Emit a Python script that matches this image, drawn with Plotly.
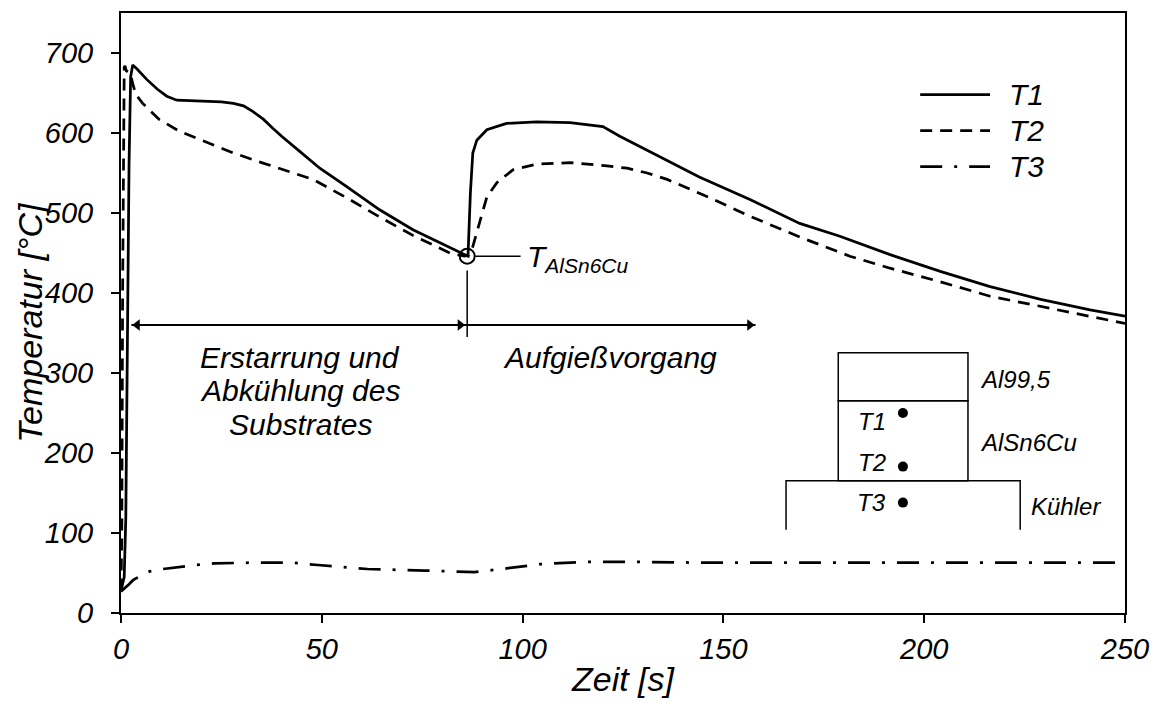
import plotly.graph_objects as go

FONT = "Liberation Sans, Arial, sans-serif"

# ---- data ----
t1_time = [0, 0.8, 1.2, 1.6, 2.0, 2.4, 2.9, 4.0, 6.4, 9.0, 11.4, 13.9, 20, 25.0, 28.0, 30.5,
           32.8, 35.5, 37.8, 40.0, 44.5, 49.5, 56.2, 64.4, 72.7, 79.4, 84.9, 86.4, 87.0, 87.6,
           88.6, 91.1, 96.0, 103.5, 111.8, 120.0, 124.2, 131.7, 139.0, 144.0, 156.6, 169.0,
           179.0, 191.5, 204.0, 216.4, 229.0, 241.3, 250.0]
t1_temp = [28, 45, 120, 350, 560, 670, 685, 680, 667, 655, 646, 641, 640, 639, 637, 634,
           627, 617, 606, 596, 577, 556, 533, 504, 479, 463, 450, 446, 525, 575,
           591, 604, 612, 614, 613, 608, 596, 577, 558, 545, 517, 487,
           471, 448, 427, 408, 392, 379, 371]

t2_time = [0, 0.2, 0.4, 0.6, 0.8, 1.0, 1.3, 1.8, 2.3, 2.9, 3.7, 5.4, 7.6, 9.5, 14.6, 19.6,
           28.0, 35.0, 40.3, 47.8, 56.2, 64.4, 72.7, 81.9, 85.5, 86.6, 87.6, 89.4, 91.1, 93.6,
           97.6, 103.5, 111.8, 121.0, 126.0, 131.0, 136.0, 146.6, 156.6, 169.0, 181.5, 191.5,
           204.0, 216.4, 229.0, 241.3, 250.0]
t2_temp = [28, 100, 400, 640, 682, 684, 678, 676, 675, 662, 648, 637, 626, 617, 602, 592,
           575, 563, 554, 542, 519, 495, 472, 450, 446, 447, 458, 491, 520, 538,
           554, 561, 563, 559, 556, 550, 542, 519, 496, 470, 446, 431,
           414, 396, 383, 371, 362]

t3_time = [0, 1, 2, 3, 4.3, 7.1, 10.5, 18.6, 23.3, 32.9, 42.4, 49.0, 61.4, 75.7, 88.0,
           94.8, 104.3, 115.7, 128.0, 143.0, 170.0, 200.0, 230.0, 250.0]
t3_temp = [27, 31, 36, 41, 45, 52, 55, 60, 62, 63, 63, 60, 55, 53, 51,
           55, 61, 64, 64, 63, 63, 63, 63, 63]

x_ticks = [0, 50, 100, 150, 200, 250]
y_ticks = [0, 100, 200, 300, 400, 500, 600, 700]

series_names = ["T1", "T2", "T3"]
series_dash = ["solid", "12px,8px", "22px,12px,3px,12px"]

# marked point T_AlSn6Cu
mark_time = [86.2]
mark_temp = [446]

# phase arrows (time span of each phase, drawn at one temperature level)
phase_start = [2.6, 86.2]
phase_end = [86.2, 158.0]
arrow_level = 360

# sensor positions in the inset sketch
sensor_labels = ["T1", "T2", "T3"]
sensor_x = [194.7, 194.7, 194.7]
sensor_y = [250, 183, 138]

phase_labels = ["Erstarrung und", "Abkühlung des", "Substrates"]
phase2_label = "Aufgießvorgang"
layer_labels = ["Al99,5", "AlSn6Cu", "Kühler"]
x_title = "Zeit [s]"
y_title = "Temperatur [°C]"

LW = 2.75
PX = 250 / 1004.0  # seconds per pixel on the x axis

fig = go.Figure()

for name, xs, ys, dash in zip(series_names, [t1_time, t2_time, t3_time],
                              [t1_temp, t2_temp, t3_temp], series_dash):
    fig.add_trace(go.Scatter(x=xs, y=ys, mode="lines", name=name, showlegend=False,
                             line=dict(color="black", width=LW, dash=dash)))

# open circle at T_AlSn6Cu
fig.add_trace(go.Scatter(x=mark_time, y=mark_temp, mode="markers", showlegend=False,
                         marker=dict(symbol="circle-open", size=15, color="black",
                                     line=dict(width=2, color="black"))))
# sensor dots
fig.add_trace(go.Scatter(x=sensor_x, y=sensor_y, mode="markers", showlegend=False,
                         marker=dict(symbol="circle", size=10, color="black")))

# arrow lines
fig.add_trace(go.Scatter(x=[phase_start[0], phase_end[1]], y=[arrow_level, arrow_level],
                         mode="lines", showlegend=False,
                         line=dict(color="black", width=2)))
# arrow heads (tip offset = half triangle length)
AS = 10
tip = AS / 2 * 2 / 3 ** 0.5 * PX
fig.add_trace(go.Scatter(x=[phase_start[0] + tip], y=[arrow_level], mode="markers",
                         showlegend=False,
                         marker=dict(symbol="triangle-left", size=AS, color="black")))
fig.add_trace(go.Scatter(x=[phase_end[0] - tip - 0.3, phase_end[1] - tip], y=[arrow_level, arrow_level],
                         mode="markers", showlegend=False,
                         marker=dict(symbol="triangle-right", size=AS, color="black")))

shapes = []
line_k = dict(color="black", width=1.5)
# inset sketch boxes
shapes.append(dict(type="rect", x0=178.6, x1=210.9, y0=265.4, y1=325.4, line=line_k))
shapes.append(dict(type="rect", x0=178.6, x1=210.9, y0=165.4, y1=265.4, line=line_k))
shapes.append(dict(type="path", path="M 165.6,104.1 L 165.6,165.4 L 223.9,165.4 L 223.9,104.1",
                   line=line_k))
# vertical marker line and leader
shapes.append(dict(type="line", x0=86.2, x1=86.2, y0=345, y1=428, line=dict(color="black", width=1.5)))
shapes.append(dict(type="line", x0=88.2, x1=99.5, y0=446, y1=446, line=dict(color="black", width=1.5)))
# manual legend samples
leg_y = [648, 603, 558]
for yy, dash in zip(leg_y, series_dash):
    shapes.append(dict(type="line", x0=199.0, x1=216.4, y0=yy, y1=yy,
                       line=dict(color="black", width=LW, dash=dash)))

ann = []
big = dict(family=FONT, size=30, color="black", style="italic")
small = dict(family=FONT, size=24, color="black", style="italic")
title_font = dict(family=FONT, size=34, color="black", style="italic")
for yy, name in zip(leg_y, series_names):
    ann.append(dict(x=220.7, y=yy, text=name, showarrow=False, xanchor="left",
                    yanchor="middle", font=big))

for yy, txt in zip([320, 278, 236], phase_labels):
    ann.append(dict(x=44.6, y=yy, text=txt, showarrow=False, xanchor="center",
                    yanchor="middle", font=big))
ann.append(dict(x=121.7, y=320, text=phase2_label, showarrow=False, xanchor="center",
                yanchor="middle", font=big))
ann.append(dict(x=100.5, y=443, text="T<sub>AlSn6Cu</sub>", showarrow=False,
                xanchor="left", yanchor="middle", font=big))

# inset labels
for xx, yy, txt in zip([213.4, 213.4, 226.1], [292, 213, 133], layer_labels):
    ann.append(dict(x=xx, y=yy, text=txt, showarrow=False, xanchor="left",
                    yanchor="middle", font=small))
for xx, yy, txt in zip([187, 187, 187], [239, 188, 138], sensor_labels):
    ann.append(dict(x=xx, y=yy, text=txt, showarrow=False, xanchor="center",
                    yanchor="middle", font=small))

# y-axis title placed next to the tick labels
ann.append(dict(xref="paper", yref="paper", x=-0.091, y=0.485, text=y_title,
                textangle=-90, showarrow=False, xanchor="center", yanchor="middle",
                font=title_font))

axis_common = dict(showline=True, linewidth=2, linecolor="black", mirror=True,
                   showgrid=False, zeroline=False, ticks="outside", ticklen=8,
                   tickwidth=2, tickcolor="black",
                   tickfont=dict(family=FONT, size=29, color="black", style="italic"))

fig.update_layout(
    width=1159, height=704,
    margin=dict(l=121, r=34, t=13, b=91, autoexpand=False),
    paper_bgcolor="white", plot_bgcolor="white",
    showlegend=False,
    shapes=shapes, annotations=ann,
    xaxis=dict(range=[0, 250], tickvals=x_ticks, ticklabelstandoff=1,
               title=dict(text=x_title, standoff=3, font=title_font),
               **axis_common),
    yaxis=dict(range=[0, 750], tickvals=y_ticks, ticklabelstandoff=12,
               **axis_common),
)

fig.write_html("out.html")
